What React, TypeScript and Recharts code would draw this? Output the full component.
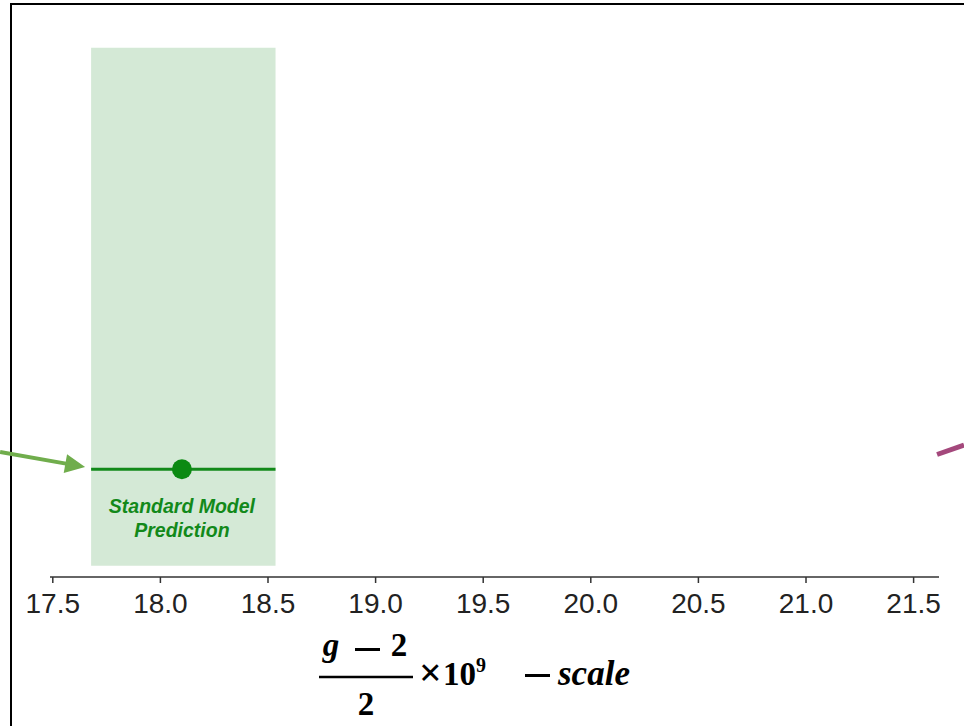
import React from 'react';
import {
    ComposedChart,
    XAxis,
    YAxis,
    Scatter,
    ReferenceArea,
    ReferenceLine,
} from 'recharts';

// x axis (g-2)/2 x 10^9 scale
const xTicks = [17.5, 18.0, 18.5, 19.0, 19.5, 20.0, 20.5, 21.0, 21.5];
const xDomain = [17.487, 21.618];
const yDomain = [0, 100];

// standard model prediction
const smValue = 18.1;
const smLow = 17.678;
const smHigh = 18.535;
const smPoints = [{ x: smValue, y: 20 }];
const bandTop = 98.2;
const bandBottom = 2.1;
const smLabel = ['Standard Model', 'Prediction'];

// annotation arrows coming in from outside the panel
const greenArrow = [{ x: 17.255, y: 23.2 }, { x: 17.65, y: 20.4 }];
const purpleStub = [{ x: 21.609, y: 22.73 }, { x: 21.734, y: 24.49 }];

const green = '#12891a';

const ArrowShape = (props: any) => {
    const { x1, y1, x2, y2 } = props;
    const dx = x2 - x1;
    const dy = y2 - y1;
    const len = Math.sqrt(dx * dx + dy * dy);
    const ux = dx / len;
    const uy = dy / len;
    const headLen = 20;
    const headW = 9.5;
    const bx = x2 - ux * headLen;
    const by = y2 - uy * headLen;
    const pts = [
        `${x2},${y2}`,
        `${bx - uy * headW},${by + ux * headW}`,
        `${bx + uy * headW},${by - ux * headW}`,
    ].join(' ');
    return (
        <g>
            <line x1={x1} y1={y1} x2={bx + ux * 2} y2={by + uy * 2} stroke="#70ad4c" strokeWidth={4} />
            <polygon points={pts} fill="#70ad4c" />
        </g>
    );
};

const StubShape = (props: any) => {
    const { x1, y1, x2, y2 } = props;
    return <line x1={x1} y1={y1} x2={x2} y2={y2} stroke="#a4487c" strokeWidth={5} />;
};

const SmDot = (props: any) => {
    const { cx, cy } = props;
    return (
        <g>
            <circle cx={cx} cy={cy} r={10} fill="#0b8a12" />
            {smLabel.map((t, i) => (
                <text
                    key={t}
                    x={cx}
                    y={cy + 44 + i * 24}
                    textAnchor="middle"
                    fill={green}
                    fontFamily="'Liberation Sans', Arial, sans-serif"
                    fontWeight="bold"
                    fontStyle="italic"
                    fontSize={19.5}
                >
                    {t}
                </text>
            ))}
        </g>
    );
};

const AxisTitle = (props: any) => {
    const { viewBox } = props;
    const x0 = viewBox.x + 270;
    const serif = "'Liberation Serif', 'Times New Roman', serif";
    return (
        <g fontFamily={serif} fontWeight="bold" fill="#000">
            <text x={x0 + 11} y={656} fontSize={33} fontStyle="italic" textAnchor="middle">g</text>
            <rect x={x0 + 35} y={648} width={25} height={3} fill="#000" />
            <text x={x0 + 79} y={656} fontSize={33} textAnchor="middle">2</text>
            <line x1={x0 - 1} y1={677} x2={x0 + 93} y2={677} stroke="#000" strokeWidth={2.5} />
            <text x={x0 + 46} y={715} fontSize={33} textAnchor="middle">2</text>
            <text x={x0 + 99} y={686} fontSize={40}>×</text>
            <text x={x0 + 123} y={685} fontSize={33}>10</text>
            <text x={x0 + 156} y={672} fontSize={20}>9</text>
            <rect x={x0 + 205} y={674} width={25} height={3} fill="#000" />
            <text x={x0 + 238} y={685} fontSize={35} fontStyle="italic">scale</text>
        </g>
    );
};

export default function App() {
    return (
        <div style={{ position: 'absolute', left: 0, top: 0, width: 964, height: 726, background: '#fff', overflow: 'hidden' }}>
            <div
                style={{
                    position: 'absolute',
                    left: 10,
                    top: 3,
                    width: 1000,
                    height: 800,
                    border: '2px solid #000',
                }}
            />
            <ComposedChart
                width={964}
                height={726}
                margin={{ top: 38, right: 25, bottom: 89, left: 50 }}
                style={{ position: 'absolute', left: 0, top: 0 }}
            >
                <XAxis
                    type="number"
                    dataKey="x"
                    domain={xDomain}
                    ticks={xTicks}
                    allowDataOverflow
                    tickFormatter={(v: number) => v.toFixed(1)}
                    stroke="#333"
                    strokeWidth={1.5}
                    tickSize={6}
                    tickMargin={10}
                    tick={{ fill: '#222', fontSize: 28, fontFamily: "'Liberation Sans', Arial, sans-serif" }}
                    height={60}
                    label={<AxisTitle />}
                />
                <YAxis
                    type="number"
                    dataKey="y"
                    domain={yDomain}
                    width={0}
                    tick={false}
                    tickLine={false}
                    stroke="#555"
                    strokeWidth={2}
                />
                <ReferenceArea
                    x1={smLow}
                    x2={smHigh}
                    y1={bandBottom}
                    y2={bandTop}
                    fill="#d4e9d6"
                    fillOpacity={1}
                    stroke="none"
                />
                <ReferenceLine
                    segment={[{ x: smLow, y: smPoints[0].y }, { x: smHigh, y: smPoints[0].y }]}
                    stroke={green}
                    strokeWidth={3}
                />
                <ReferenceLine segment={greenArrow} ifOverflow="visible" shape={ArrowShape} />
                <ReferenceLine segment={purpleStub} ifOverflow="visible" shape={StubShape} />
                <Scatter data={smPoints} shape={SmDot} isAnimationActive={false} />
            </ComposedChart>
        </div>
    );
}
